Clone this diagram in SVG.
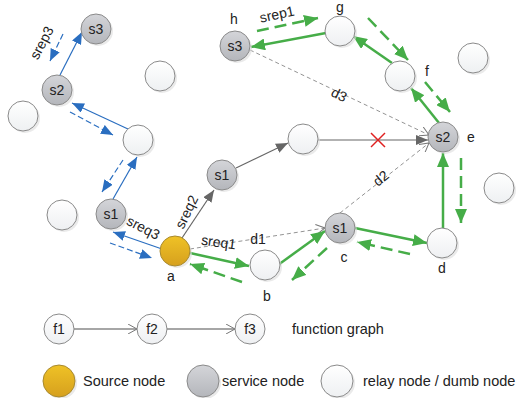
<svg xmlns="http://www.w3.org/2000/svg" width="518" height="398" viewBox="0 0 518 398">
<defs>
<linearGradient id="gw" x1="0" y1="0" x2="0" y2="1"><stop offset="0" stop-color="#ffffff"/><stop offset="1" stop-color="#eef0f2"/></linearGradient>
<linearGradient id="gg" x1="0" y1="0" x2="0" y2="1"><stop offset="0" stop-color="#d4d5d9"/><stop offset="1" stop-color="#b4b6bb"/></linearGradient>
<linearGradient id="gy" x1="0" y1="0" x2="0" y2="1"><stop offset="0" stop-color="#efc226"/><stop offset="1" stop-color="#d6a01e"/></linearGradient>
<marker id="mg" markerUnits="userSpaceOnUse" markerWidth="14" markerHeight="12" refX="14" refY="6" orient="auto"><path d="M0,0 L14,6 L0,12 z" fill="#46ad48"/></marker>
<marker id="mb" markerUnits="userSpaceOnUse" markerWidth="12" markerHeight="10" refX="12" refY="5" orient="auto"><path d="M0,0 L12,5 L0,10 z" fill="#2a6ec0"/></marker>
<marker id="mk" markerUnits="userSpaceOnUse" markerWidth="12" markerHeight="10" refX="12" refY="5" orient="auto"><path d="M0,0 L12,5 L0,10 z" fill="#666"/></marker>
<marker id="mv" markerUnits="userSpaceOnUse" markerWidth="10" markerHeight="10" refX="9" refY="5" orient="auto"><path d="M0,0 L9,5 L0,10" fill="none" stroke="#777" stroke-width="1"/></marker>
</defs>
<style>
.sh{fill:#dcdcdc;opacity:0.6}
.w{fill:url(#gw);stroke:#8a8a8a;stroke-width:1}
.g{fill:url(#gg);stroke:#8a8a8a;stroke-width:1}
.y{fill:url(#gy);stroke:#a88a30;stroke-width:1}
text{font-family:"Liberation Sans",Arial,sans-serif;fill:#222}
.nl{font-size:14px;text-anchor:middle}
.lb{font-size:14px;text-anchor:middle}
.lt{font-size:14.5px}
.gs{stroke:#46ad48;stroke-width:2.5;fill:none;marker-end:url(#mg)}
.gd{stroke:#46ad48;stroke-width:2.5;fill:none;stroke-dasharray:12 6;marker-end:url(#mg)}
.bs{stroke:#2a6ec0;stroke-width:1.2;fill:none;marker-end:url(#mb)}
.bd{stroke:#2a6ec0;stroke-width:1.2;fill:none;stroke-dasharray:6 3;marker-end:url(#mb)}
.ks{stroke:#666;stroke-width:1.2;fill:none;marker-end:url(#mk)}
.kd{stroke:#777;stroke-width:0.8;fill:none;stroke-dasharray:4 3;marker-end:url(#mv)}
.lg{stroke:#888;stroke-width:1.3;fill:none;marker-end:url(#mv)}
</style>

<g id="connectors">
  <line class="kd" x1="190" y1="249" x2="325" y2="228"/>
  <line class="kd" x1="340" y1="213" x2="429" y2="143"/>
  <line class="kd" x1="250" y1="50" x2="429" y2="135"/>
  <line class="ks" x1="182" y1="238" x2="214" y2="190"/>
  <line class="ks" x1="236" y1="168" x2="288" y2="143"/>
  <line class="ks" x1="318" y1="140" x2="428" y2="140"/>
  <g id="cross" stroke="#e02020" stroke-width="1.5"><line x1="371" y1="133" x2="385" y2="147"/><line x1="385" y1="133" x2="371" y2="147"/></g>
  <line class="bs" x1="60" y1="75" x2="82" y2="32"/>
  <line class="bd" x1="63" y1="34" x2="50" y2="61"/>
  <line class="bs" x1="128" y1="129" x2="72" y2="103"/>
  <line class="bd" x1="70" y1="112" x2="113" y2="135"/>
  <line class="bs" x1="113" y1="199" x2="137" y2="157"/>
  <line class="bd" x1="123" y1="160" x2="102" y2="192"/>
  <line class="bs" x1="162" y1="249" x2="113" y2="232"/>
  <line class="bd" x1="110" y1="243" x2="152" y2="258"/>
  <line class="gs" x1="190" y1="253" x2="249" y2="266"/>
  <line class="gs" x1="278" y1="265" x2="325" y2="231"/>
  <line class="gs" x1="355" y1="228" x2="427" y2="243"/>
  <line class="gs" x1="443" y1="228" x2="443" y2="153"/>
  <line class="gs" x1="439" y1="123" x2="411" y2="88"/>
  <line class="gs" x1="392" y1="63" x2="353" y2="36"/>
  <line class="gs" x1="326" y1="33" x2="251" y2="47"/>
  <line class="gd" x1="257" y1="31" x2="318" y2="18"/>
  <line class="gd" x1="368" y1="18" x2="408" y2="60"/>
  <line class="gd" x1="425" y1="82" x2="450" y2="112"/>
  <line class="gd" x1="461" y1="158" x2="461" y2="223"/>
  <line class="gd" x1="410" y1="254" x2="357" y2="242"/>
  <line class="gd" x1="327" y1="248" x2="292" y2="280"/>
  <line class="gd" x1="242" y1="282" x2="190" y2="264"/>
  <line class="lg" x1="74" y1="329" x2="137" y2="329"/>
  <line class="lg" x1="167" y1="329" x2="235" y2="329"/>
</g>

<g id="labels">
  <text class="lb" transform="translate(46,45) rotate(-62)">srep3</text>
  <text class="lb" transform="translate(141,232) rotate(27)">sreq3</text>
  <text class="lb" transform="translate(191,214) rotate(-64)">sreq2</text>
  <text class="lb" transform="translate(218,247) rotate(8)">sreq1</text>
  <text class="lb" x="258" y="244">d1</text>
  <text class="lb" transform="translate(384,182) rotate(-40)">d2</text>
  <text class="lb" transform="translate(337,99) rotate(26)">d3</text>
  <text class="lb" transform="translate(278,19) rotate(-12)">srep1</text>
  <text class="lb" x="234" y="24">h</text>
  <text class="lb" x="340" y="12">g</text>
  <text class="lb" x="427" y="76">f</text>
  <text class="lb" x="471" y="142">e</text>
  <text class="lb" x="344" y="262">c</text>
  <text class="lb" x="442" y="273">d</text>
  <text class="lb" x="267" y="301">b</text>
  <text class="lb" x="171" y="281">a</text>
</g>

<g id="n_s3a"><circle class="sh" cx="98" cy="31" r="15"/><circle class="g" cx="96" cy="29" r="15"/><text class="nl" x="96" y="34">s3</text></g>
<g id="n_e1"><circle class="sh" cx="162" cy="78" r="15"/><circle class="w" cx="160" cy="76" r="15"/></g>
<g id="n_s2a"><circle class="sh" cx="59" cy="92" r="15"/><circle class="g" cx="57" cy="90" r="15"/><text class="nl" x="57" y="95">s2</text></g>
<g id="n_e2"><circle class="sh" cx="25" cy="118" r="15"/><circle class="w" cx="23" cy="116" r="15"/></g>
<g id="n_e3"><circle class="sh" cx="140" cy="142" r="15"/><circle class="w" cx="138" cy="140" r="15"/></g>
<g id="n_e4"><circle class="sh" cx="64" cy="217" r="15"/><circle class="w" cx="62" cy="215" r="15"/></g>
<g id="n_s1a"><circle class="sh" cx="113" cy="216" r="15"/><circle class="g" cx="111" cy="214" r="15"/><text class="nl" x="111" y="219">s1</text></g>
<g id="n_a"><circle class="sh" cx="177" cy="253" r="15"/><circle class="y" cx="175" cy="251" r="15"/></g>
<g id="n_s1b"><circle class="sh" cx="224" cy="177" r="15"/><circle class="g" cx="222" cy="175" r="15"/><text class="nl" x="222" y="180">s1</text></g>
<g id="n_e5"><circle class="sh" cx="305" cy="141" r="15"/><circle class="w" cx="303" cy="139" r="15"/></g>
<g id="n_e"><circle class="sh" cx="445" cy="139" r="15"/><circle class="g" cx="443" cy="137" r="15"/><text class="nl" x="443" y="142">s2</text></g>
<g id="n_e6"><circle class="sh" cx="501" cy="190" r="15"/><circle class="w" cx="499" cy="188" r="15"/></g>
<g id="n_c"><circle class="sh" cx="342" cy="230" r="15"/><circle class="g" cx="340" cy="228" r="15"/><text class="nl" x="340" y="233">s1</text></g>
<g id="n_b"><circle class="sh" cx="267" cy="267" r="15"/><circle class="w" cx="265" cy="265" r="15"/></g>
<g id="n_d"><circle class="sh" cx="444" cy="245" r="15"/><circle class="w" cx="442" cy="243" r="15"/></g>
<g id="n_h"><circle class="sh" cx="237" cy="48" r="15"/><circle class="g" cx="235" cy="46" r="15"/><text class="nl" x="235" y="51">s3</text></g>
<g id="n_g"><circle class="sh" cx="342" cy="33" r="15"/><circle class="w" cx="340" cy="31" r="15"/></g>
<g id="n_f"><circle class="sh" cx="402" cy="78" r="15"/><circle class="w" cx="400" cy="76" r="15"/></g>
<g id="n_e7"><circle class="sh" cx="475" cy="60" r="15"/><circle class="w" cx="473" cy="58" r="15"/></g>

<g id="legend_f1"><circle class="w" cx="59" cy="329" r="15"/><text class="nl" x="59" y="334">f1</text></g>
<g id="legend_f2"><circle class="w" cx="152" cy="329" r="15"/><text class="nl" x="152" y="334">f2</text></g>
<g id="legend_f3"><circle class="w" cx="250" cy="329" r="15"/><text class="nl" x="250" y="334">f3</text></g>
<text class="lt" x="292" y="334">function graph</text>
<g id="legend_source"><circle class="sh" cx="61" cy="383" r="16"/><circle class="y" cx="59" cy="381" r="16"/><text class="lt" x="83" y="386">Source node</text></g>
<g id="legend_service"><circle class="sh" cx="205" cy="383" r="16"/><circle class="g" cx="203" cy="381" r="16"/><text class="lt" x="222" y="386">service node</text></g>
<g id="legend_relay"><circle class="sh" cx="339" cy="383" r="16"/><circle class="w" cx="337" cy="381" r="16"/><text class="lt" x="363" y="386">relay node / dumb node</text></g>
</svg>
